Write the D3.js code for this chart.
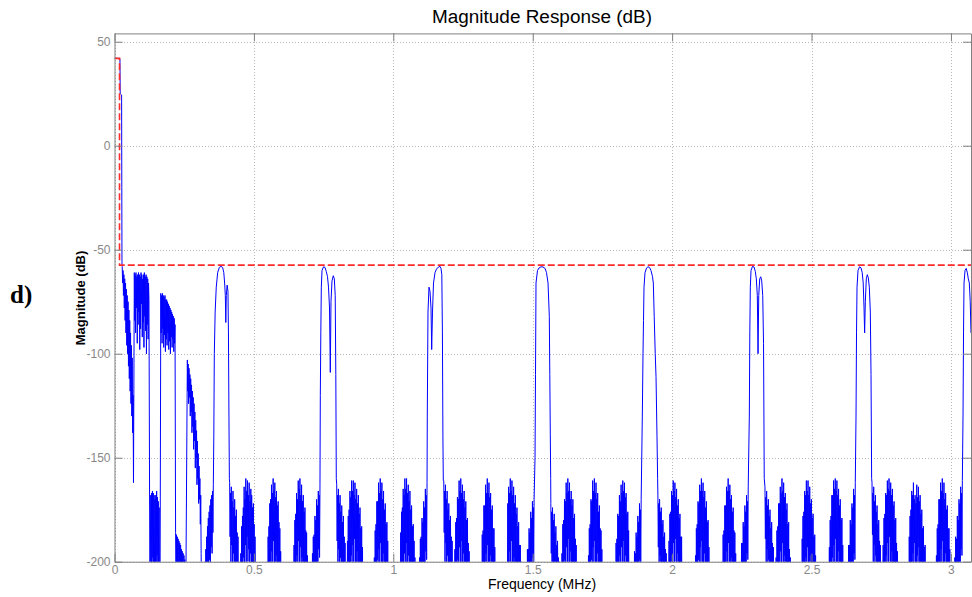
<!DOCTYPE html>
<html>
<head>
<meta charset="utf-8">
<script src="https://cdn.jsdelivr.net/npm/d3@7"></script>
<style>
  html, body { margin: 0; padding: 0; background: #ffffff; }
  svg { display: block; }
</style>
</head>
<body>
<svg id="chart" width="972" height="597"></svg>
<script>
// ---- axes ---------------------------------------------------------------
const freqLimitsMHz = [0, 3.072];
const magLimitsDb = [-200, 54];
const xTicks = [0, 0.5, 1, 1.5, 2, 2.5, 3];
const xTickLabels = ["0", "0.5", "1", "1.5", "2", "2.5", "3"];
const yTicks = [-200, -150, -100, -50, 0, 50];
const yTickLabels = ["-200", "-150", "-100", "-50", "0", "50"];

// ---- specification mask (red dashed) ------------------------------------
const maskMHz = [0, 0.018, 0.018, 3.072];
const maskDb = [42, 42, -57.4, -57.4];

// ---- measured response (blue) -------------------------------------------
// noisy stretches are stored as [start MHz, dB samples every SAMPLE_STEP_MHZ]
const SAMPLE_STEP_MHZ = 0.0015;

const passband = [[0, 42], [0.0188, 42], [0.0196, 41.5], [0.0205, 25], [0.0255, 24.4], [0.0262, -20], [0.0268, -56]];

const earlyBand = [
  [0.0276, [-58, -66, -60, -72, -62, -78, -64, -84, -66, -90, -69, -96, -72, -100, -75, -106, -79, -112, -84, -118, -90, -124, -96, -130, -102, -138, -120, -162]],
  [0.0711, [-61, -84, -62, -90, -61, -78, -63, -95, -62, -86, -61, -80, -62, -98, -63, -88, -61, -76, -62, -92, -64, -85, -62, -97, -61, -82, -63, -89, -62, -100, -63, -86, -64, -93, -66, -74]],
  [0.1271, [-220, -200, -168, -205, -167, -214, -166, -198, -167, -209, -168, -220, -170, -202, -168, -211, -166, -197, -169, -215, -171, -206, -174, -222, -230]],
  [0.1661, [-71, -90, -72, -95, -71, -88, -72, -97, -73, -91, -72, -99, -74, -93, -74, -96, -75, -90, -76, -98, -77, -94, -78, -100, -79, -92, -80, -97, -81, -93, -82, -99, -83, -95, -86]],
  [0.2191, [-186, -206, -187, -215, -188, -209, -189, -220, -190, -212, -191, -225, -192, -214, -194, -222, -195, -211, -196, -226, -197, -216, -199, -230, -230]],
  [0.2613, [-103, -118, -105, -124, -107, -121, -110, -130, -112, -128, -115, -138, -118, -135, -121, -146, -124, -142, -128, -155, -132, -150, -137, -163, -142, -160, -148, -172, -154, -170, -160, -182, -168, -196, -230]],
  [0.3215, [-230, -222, -200, -226, -194, -214, -188, -220, -183, -206, -179, -211, -176, -199, -173, -204, -170, -193, -168, -196, -166, -186, -163]]
];

// image lobes at multiples of 0.384 MHz, [MHz, dB]
const lobe1 = [[0.3562, -140], [0.3580, -100], [0.3610, -80], [0.3650, -68], [0.3700, -61], [0.3760, -58.5], [0.3820, -58], [0.3880, -58.6], [0.3920, -61], [0.3950, -66], [0.3975, -72], [0.3992, -85], [0.4010, -72], [0.4040, -67], [0.4070, -70], [0.4087, -90], [0.4105, -130], [0.4120, -160]];
const lobe2 = [[0.7382, -120], [0.7400, -90], [0.7418, -68], [0.7443, -60], [0.7497, -58.2], [0.7550, -58.5], [0.7597, -60.5], [0.7640, -63], [0.7676, -68], [0.7712, -78], [0.7740, -109], [0.7765, -75], [0.7801, -65], [0.7848, -62.5], [0.7884, -64], [0.7916, -72], [0.7938, -110], [0.7955, -160]];
const lobe3 = [[1.1219, -130], [1.1244, -80], [1.1280, -68], [1.1316, -70], [1.1352, -78], [1.1377, -98], [1.1406, -80], [1.1442, -66], [1.1496, -61], [1.1549, -59.3], [1.1621, -58.3], [1.1675, -58], [1.1711, -59], [1.1740, -62], [1.1761, -90], [1.1779, -140], [1.1793, -161]];
const lobe4 = [[1.5083, -150], [1.5100, -110], [1.5118, -66], [1.5172, -60], [1.5226, -58.8], [1.5298, -58.2], [1.5370, -58.3], [1.5442, -59], [1.5495, -61], [1.5549, -66], [1.5595, -82], [1.5613, -110], [1.5631, -139], [1.5645, -160]];
const lobe5 = [[1.8931, -130], [1.8956, -100], [1.8974, -84], [1.8992, -68], [1.9028, -61], [1.9082, -58.8], [1.9135, -58.2], [1.9189, -58.5], [1.9243, -60], [1.9297, -63], [1.9326, -66], [1.9358, -82], [1.9394, -100], [1.9423, -111], [1.9458, -140], [1.9480, -160]];
const lobe6 = [[2.2769, -130], [2.2787, -90], [2.2805, -68], [2.2830, -60], [2.2884, -58], [2.2938, -58.3], [2.2984, -60.5], [2.3020, -64], [2.3056, -72], [2.3082, -100], [2.3107, -72], [2.3142, -64], [2.3178, -63], [2.3214, -65], [2.3250, -72], [2.3279, -95], [2.3304, -160]];
const lobe7 = [[2.6596, -130], [2.6614, -90], [2.6632, -68], [2.6668, -60], [2.6722, -58.2], [2.6775, -58.7], [2.6818, -61], [2.6854, -66], [2.6883, -78], [2.6905, -90], [2.6930, -75], [2.6965, -64], [2.7001, -62], [2.7037, -63.5], [2.7073, -68], [2.7109, -80], [2.7134, -110], [2.7156, -160]];
const lobe8 = [[3.0434, -130], [3.0452, -90], [3.0470, -66], [3.0506, -60], [3.0549, -59], [3.0588, -61], [3.0624, -64], [3.0660, -66], [3.0692, -75], [3.0720, -90]];

// stop-band floor between neighbouring lobes
const gap1 = [
  [0.413, [-162, -188, -167, -205, -164, -192, -171, -210, -166, -196, -174, -214, -170, -200, -178, -220, -175, -206, -186, -225, -188, -230]],
  [0.450, [-230, -215, -196, -222, -183, -208, -178, -215, -174, -198, -164, -210, -170, -192, -160, -205, -166, -188, -161, -200, -168, -194, -162, -212, -171, -196, -165, -215, -168, -203, -174, -218, -172, -206, -182, -220, -188, -225, -230]],
  [0.545, [-230, -218, -200, -225, -188, -210, -183, -218, -172, -200, -170, -213, -163, -195, -167, -207, -160, -190, -166, -203, -162, -211, -169, -197, -166, -216, -173, -204, -171, -220, -181, -210, -184, -224, -195, -228, -230]],
  [0.641, [-230, -214, -192, -220, -180, -206, -177, -216, -167, -197, -170, -209, -161, -190, -165, -204, -160, -193, -168, -212, -163, -198, -171, -214, -168, -202, -176, -219, -174, -207, -185, -222, -186, -226, -197, -230, -230]],
  [0.707, [-230, -222, -196, -226, -188, -214, -187, -220, -178, -208, -180, -212, -170, -200, -173, -206, -166, -194, -168, -198, -163]]
];
const gap2 = [
  [0.797, [-163, -190, -168, -207, -165, -194, -172, -212, -168, -198, -176, -216, -173, -203, -181, -222, -178, -208, -188, -226, -191, -230]],
  [0.834, [-230, -190, -212, -178, -220, -175, -205, -166, -214, -169, -197, -161, -209, -166, -192, -161, -204, -168, -189, -162, -201, -170, -210, -165, -195, -172, -213, -168, -201, -177, -217, -174, -206, -184, -221, -183, -226, -193, -230]],
  [0.929, [-230, -216, -198, -223, -185, -207, -182, -217, -171, -199, -171, -212, -162, -194, -167, -206, -160, -191, -166, -203, -162, -210, -170, -196, -166, -214, -175, -202, -172, -219, -182, -208, -181, -223, -190, -227, -230]],
  [1.025, [-230, -186, -214, -176, -221, -174, -204, -165, -213, -168, -196, -160, -208, -165, -191, -160, -203, -167, -212, -163, -197, -171, -215, -166, -203, -175, -218, -173, -207, -183, -222, -182, -226, -190, -229, -198, -230]],
  [1.091, [-230, -224, -198, -227, -189, -215, -188, -221, -179, -209, -181, -213, -171, -201, -174, -207, -165, -195, -168, -199, -162]]
];
const gap3 = [
  [1.181, [-161, -186, -166, -204, -163, -191, -170, -210, -166, -197, -175, -215, -172, -202, -180, -221, -178, -207, -188, -225, -190, -230]],
  [1.218, [-230, -214, -194, -221, -181, -207, -179, -216, -169, -199, -170, -210, -161, -193, -166, -205, -160, -190, -167, -202, -163, -211, -170, -196, -166, -214, -174, -202, -171, -218, -180, -207, -179, -222, -191, -226, -195, -230, -230]],
  [1.313, [-230, -219, -201, -224, -187, -209, -185, -218, -173, -201, -173, -213, -163, -196, -167, -207, -160, -192, -167, -204, -162, -211, -169, -197, -167, -215, -175, -203, -173, -219, -184, -209, -184, -224, -193, -228, -230]],
  [1.409, [-230, -172, -200, -164, -211, -167, -195, -160, -206, -166, -190, -161, -203, -168, -212, -164, -198, -172, -215, -168, -204, -177, -219, -174, -207, -183, -222, -181, -211, -192, -225, -192, -228, -200, -230, -230, -230]],
  [1.475, [-230, -226, -204, -228, -194, -217, -194, -222, -184, -210, -186, -214, -176, -203, -179, -208, -171, -198, -174, -201, -170]]
];
const gap4 = [
  [1.565, [-172, -196, -176, -210, -174, -200, -180, -215, -177, -204, -186, -219, -183, -208, -192, -224, -190, -212, -198, -227, -200, -230]],
  [1.602, [-230, -216, -196, -222, -182, -208, -180, -216, -170, -199, -171, -210, -162, -193, -167, -205, -160, -189, -166, -201, -162, -211, -170, -195, -166, -214, -173, -202, -170, -218, -179, -206, -177, -221, -189, -225, -192, -229, -230]],
  [1.697, [-230, -215, -197, -222, -184, -207, -182, -217, -170, -199, -171, -211, -161, -193, -166, -205, -160, -190, -167, -202, -162, -211, -170, -196, -167, -214, -176, -203, -173, -219, -184, -208, -185, -223, -194, -228, -230]],
  [1.793, [-230, -220, -204, -225, -191, -211, -189, -219, -177, -203, -178, -214, -168, -197, -171, -208, -163, -193, -167, -204, -161, -190, -166, -201, -162, -209, -169, -197, -167, -213, -177, -204, -176, -219, -185, -226, -230]],
  [1.859, [-230, -227, -205, -229, -195, -218, -196, -223, -186, -211, -188, -215, -178, -204, -181, -209, -172, -199, -175, -202, -170]]
];
const gap5 = [
  [1.949, [-168, -193, -172, -208, -170, -197, -176, -213, -174, -201, -182, -217, -180, -206, -188, -222, -186, -210, -194, -226, -196, -230]],
  [1.986, [-230, -212, -190, -219, -177, -204, -176, -213, -166, -197, -168, -208, -161, -191, -166, -203, -162, -189, -169, -200, -165, -210, -173, -196, -170, -214, -179, -203, -177, -218, -188, -208, -188, -223, -201, -227, -205, -230, -230]],
  [2.081, [-230, -216, -197, -222, -184, -208, -182, -216, -171, -199, -172, -210, -163, -193, -166, -205, -160, -190, -166, -202, -162, -211, -169, -196, -166, -214, -174, -203, -171, -218, -181, -208, -180, -222, -193, -227, -230]],
  [2.177, [-230, -218, -200, -224, -187, -209, -185, -218, -173, -201, -173, -212, -164, -195, -166, -206, -160, -191, -166, -203, -163, -212, -170, -198, -168, -215, -176, -204, -174, -219, -185, -209, -186, -224, -196, -228, -230]],
  [2.243, [-230, -225, -201, -227, -191, -216, -191, -221, -181, -209, -183, -213, -173, -202, -176, -206, -168, -196, -171, -199, -164]]
];
const gap6 = [
  [2.333, [-164, -189, -169, -206, -166, -194, -173, -211, -170, -199, -178, -216, -175, -204, -184, -221, -181, -209, -191, -225, -193, -230]],
  [2.370, [-230, -218, -198, -224, -185, -209, -183, -218, -172, -201, -172, -212, -164, -195, -167, -206, -160, -191, -166, -203, -162, -211, -169, -197, -167, -215, -175, -203, -172, -219, -182, -208, -181, -223, -194, -227, -198, -230, -230]],
  [2.465, [-230, -189, -213, -178, -220, -176, -206, -166, -215, -168, -198, -161, -209, -166, -193, -161, -204, -168, -212, -164, -197, -172, -215, -170, -203, -179, -219, -177, -208, -188, -223, -187, -227, -197, -230, -230, -230]],
  [2.561, [-230, -214, -193, -221, -180, -206, -178, -215, -168, -198, -168, -209, -161, -192, -165, -204, -160, -189, -166, -200, -161, -210, -168, -195, -165, -213, -173, -201, -170, -217, -180, -206, -179, -221, -192, -226, -230]],
  [2.627, [-230, -226, -202, -228, -192, -217, -192, -222, -180, -210, -182, -214, -172, -202, -174, -207, -165, -196, -168, -199, -162]]
];
const gap7 = [
  [2.717, [-162, -187, -167, -205, -164, -192, -171, -210, -168, -197, -176, -215, -173, -202, -182, -220, -180, -207, -190, -224, -192, -230]],
  [2.754, [-230, -213, -192, -220, -179, -205, -177, -214, -167, -197, -168, -208, -161, -191, -165, -203, -160, -188, -166, -200, -162, -210, -168, -195, -165, -213, -173, -201, -171, -217, -180, -206, -179, -221, -191, -225, -195, -229, -230]],
  [2.849, [-230, -188, -210, -178, -218, -175, -204, -166, -212, -168, -196, -162, -207, -170, -191, -168, -203, -172, -212, -163, -197, -169, -208, -164, -193, -171, -205, -168, -214, -177, -200, -175, -217, -184, -206, -183, -221, -193, -210, -192, -224, -203, -227, -205, -230, -230]],
  [2.945, [-230, -217, -197, -223, -184, -208, -182, -217, -170, -200, -170, -211, -162, -194, -166, -206, -160, -190, -167, -202, -162, -211, -170, -196, -167, -214, -175, -203, -173, -219, -184, -209, -184, -224, -194, -228, -230]],
  [3.011, [-230, -223, -198, -226, -188, -214, -189, -219, -178, -207, -180, -211, -170, -200, -172, -204, -164, -194, -167, -197, -161]]
];

// ---- assemble the trace in frequency order --------------------------------
function expand(segments) {
  const pts = [];
  segments.forEach(([start, values]) => {
    values.forEach((v, i) => pts.push([start + i * SAMPLE_STEP_MHZ, v]));
  });
  return pts;
}
const response = [].concat(
  passband, expand(earlyBand),
  lobe1, expand(gap1), lobe2, expand(gap2), lobe3, expand(gap3),
  lobe4, expand(gap4), lobe5, expand(gap5), lobe6, expand(gap6),
  lobe7, expand(gap7), lobe8
);
const mask = maskMHz.map((f, i) => [f, maskDb[i]]);

// ---- layout --------------------------------------------------------------
const plot = { left: 114.5, right: 971, top: 33.4, bottom: 561.7 };
const svg = d3.select("#chart");
const x = d3.scaleLinear().domain(freqLimitsMHz).range([plot.left, plot.right]);
const y = d3.scaleLinear().domain(magLimitsDb).range([plot.bottom, plot.top]);

const axisColor = "#808080";
const labelColor = "#888888";
const font = "'Liberation Sans', Arial, Helvetica, sans-serif";

svg.append("rect").attr("width", 972).attr("height", 597).attr("fill", "#ffffff");

// dotted grid
const grid = svg.append("g").attr("stroke", "#b8b8b8").attr("stroke-width", 1)
  .attr("stroke-dasharray", "1,2").attr("shape-rendering", "crispEdges");
grid.selectAll("line.v").data(xTicks).join("line").attr("class", "v")
  .attr("x1", d => Math.round(x(d)) + 0.5).attr("x2", d => Math.round(x(d)) + 0.5)
  .attr("y1", plot.top).attr("y2", plot.bottom);
grid.selectAll("line.h").data(yTicks).join("line").attr("class", "h")
  .attr("y1", d => Math.round(y(d)) + 0.5).attr("y2", d => Math.round(y(d)) + 0.5)
  .attr("x1", plot.left).attr("x2", plot.right);

// traces, clipped to the axes box
svg.append("clipPath").attr("id", "plotClip").append("rect")
  .attr("x", plot.left).attr("y", plot.top)
  .attr("width", plot.right - plot.left).attr("height", plot.bottom - plot.top);

const line = d3.line().x(d => x(d[0])).y(d => y(d[1]));
const traces = svg.append("g").attr("clip-path", "url(#plotClip)");
traces.append("path").datum(response)
  .attr("fill", "none").attr("stroke", "#0000ff").attr("stroke-width", 1)
  .attr("stroke-linejoin", "miter").attr("d", line);
traces.append("path").datum(mask)
  .attr("fill", "none").attr("stroke", "#ff2a2a").attr("stroke-width", 1.6)
  .attr("stroke-dasharray", "7,3").attr("d", line);

// axes box with inward ticks
function styleAxis(g) {
  g.selectAll(".domain").attr("stroke", axisColor);
  g.selectAll(".tick line").attr("stroke", axisColor);
  g.selectAll("text").attr("fill", labelColor).attr("font-family", font).attr("font-size", 12);
}
const fmtX = (d, i) => xTickLabels[i];
const fmtY = (d, i) => yTickLabels[i];

svg.append("g").attr("transform", `translate(0,${plot.bottom})`)
  .call(d3.axisBottom(x).tickValues(xTicks).tickFormat(fmtX).tickSizeInner(-8).tickSizeOuter(0).tickPadding(4))
  .call(styleAxis);
svg.append("g").attr("transform", `translate(0,${plot.top})`)
  .call(d3.axisTop(x).tickValues(xTicks).tickFormat("").tickSizeInner(-8).tickSizeOuter(0))
  .call(styleAxis);
svg.append("g").attr("transform", `translate(${plot.left},0)`)
  .call(d3.axisLeft(y).tickValues(yTicks).tickFormat(fmtY).tickSizeInner(-8).tickSizeOuter(0).tickPadding(4))
  .call(styleAxis);
svg.append("g").attr("transform", `translate(${plot.right},0)`)
  .call(d3.axisRight(y).tickValues(yTicks).tickFormat("").tickSizeInner(-8).tickSizeOuter(0))
  .call(styleAxis);

// titles
svg.append("text").attr("x", 542).attr("y", 23).attr("text-anchor", "middle")
  .attr("font-family", font).attr("font-size", 18).attr("fill", "#000")
  .attr("textLength", 220).attr("lengthAdjust", "spacingAndGlyphs")
  .text("Magnitude Response (dB)");
svg.append("text").attr("x", 542).attr("y", 589).attr("text-anchor", "middle")
  .attr("font-family", font).attr("font-size", 14).attr("fill", "#000")
  .text("Frequency (MHz)");
svg.append("text").attr("transform", "translate(85,298) rotate(-90)").attr("text-anchor", "middle")
  .attr("font-family", font).attr("font-size", 13).attr("font-weight", "bold").attr("fill", "#000")
  .text("Magnitude (dB)");
svg.append("text").attr("x", 10).attr("y", 303)
  .attr("font-family", "'Liberation Serif', 'Times New Roman', serif").attr("font-size", 25)
  .attr("font-weight", "bold").attr("fill", "#000")
  .text("d)");
</script>
</body>
</html>
